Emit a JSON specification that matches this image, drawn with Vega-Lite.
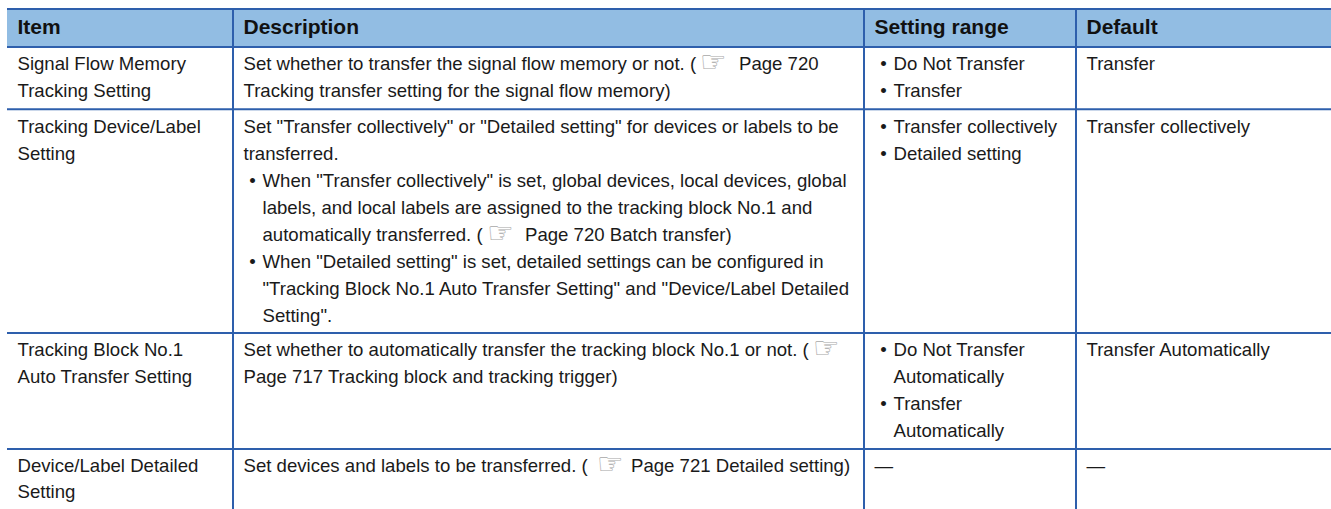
{
"$schema":"https://vega.github.io/schema/vega-lite/v6.json",
"width":1331,"height":509,"padding":0,"autosize":{"type":"none"},
"background":"white","view":{"stroke":null},
"datasets":{
"header":[{"colStart":0,"colEnd":4,"rowStart":0,"rowEnd":1}],
"hrules":[{"edge":0,"colStart":0,"colEnd":4},{"edge":1,"colStart":0,"colEnd":4},{"edge":2,"colStart":0,"colEnd":4},{"edge":3,"colStart":0,"colEnd":4},{"edge":4,"colStart":0,"colEnd":4}],
"vrules":[{"col":1,"rowStart":0,"rowEnd":5},{"col":2,"rowStart":0,"rowEnd":5},{"col":3,"rowStart":0,"rowEnd":5}],
"hands":[{"pos":1.740,"line":1},{"pos":1.403,"line":7},{"pos":1.919,"line":11},{"pos":1.577,"line":15}],
"cells":[
{"col":0,"line":0,"kind":"head","text":"Item"},
{"col":1,"line":0,"kind":"head","text":"Description"},
{"col":2,"line":0,"kind":"head","text":"Setting range"},
{"col":3,"line":0,"kind":"head","text":"Default"},
{"col":0,"line":1,"kind":"body","text":"Signal Flow Memory"},
{"col":0,"line":2,"kind":"body","text":"Tracking Setting"},
{"col":1,"line":1,"kind":"body","text":"Set whether to transfer the signal flow memory or not. ("},
{"col":1.7853,"line":1,"kind":"body","text":"Page 720"},
{"col":1,"line":2,"kind":"body","text":"Tracking transfer setting for the signal flow memory)"},
{"col":2,"line":1,"kind":"bullet","text":"Do Not Transfer"},
{"col":2,"line":2,"kind":"bullet","text":"Transfer"},
{"col":3,"line":1,"kind":"body","text":"Transfer"},
{"col":0,"line":3,"kind":"body","text":"Tracking Device/Label"},
{"col":0,"line":4,"kind":"body","text":"Setting"},
{"col":1,"line":3,"kind":"body","text":"Set \"Transfer collectively\" or \"Detailed setting\" for devices or labels to be"},
{"col":1,"line":4,"kind":"body","text":"transferred."},
{"col":1,"line":5,"kind":"bullet","text":"When \"Transfer collectively\" is set, global devices, local devices, global"},
{"col":1,"line":6,"kind":"wrap","text":"labels, and local labels are assigned to the tracking block No.1 and"},
{"col":1,"line":7,"kind":"wrap","text":"automatically transferred. ("},
{"col":1.4461,"line":7,"kind":"body","text":"Page 720 Batch transfer)"},
{"col":1,"line":8,"kind":"bullet","text":"When \"Detailed setting\" is set, detailed settings can be configured in"},
{"col":1,"line":9,"kind":"wrap","text":"\"Tracking Block No.1 Auto Transfer Setting\" and \"Device/Label Detailed"},
{"col":1,"line":10,"kind":"wrap","text":"Setting\"."},
{"col":2,"line":3,"kind":"bullet","text":"Transfer collectively"},
{"col":2,"line":4,"kind":"bullet","text":"Detailed setting"},
{"col":3,"line":3,"kind":"body","text":"Transfer collectively"},
{"col":0,"line":11,"kind":"body","text":"Tracking Block No.1"},
{"col":0,"line":12,"kind":"body","text":"Auto Transfer Setting"},
{"col":1,"line":11,"kind":"body","text":"Set whether to automatically transfer the tracking block No.1 or not. ("},
{"col":1,"line":12,"kind":"body","text":"Page 717 Tracking block and tracking trigger)"},
{"col":2,"line":11,"kind":"bullet","text":"Do Not Transfer"},
{"col":2,"line":12,"kind":"wrap","text":"Automatically"},
{"col":2,"line":13,"kind":"bullet","text":"Transfer"},
{"col":2,"line":14,"kind":"wrap","text":"Automatically"},
{"col":3,"line":11,"kind":"body","text":"Transfer Automatically"},
{"col":0,"line":15,"kind":"body","text":"Device/Label Detailed"},
{"col":0,"line":16,"kind":"body","text":"Setting"},
{"col":1,"line":15,"kind":"body","text":"Set devices and labels to be transferred. ("},
{"col":1.6141,"line":15,"kind":"body","text":"Page 721 Detailed setting)"},
{"col":2,"line":15,"kind":"body","text":"—"},
{"col":3,"line":15,"kind":"body","text":"—"}
]},
"layer":[
{"data":{"name":"header"},"mark":{"type":"rect","color":"#92BDE3"},
 "encoding":{"x":{"field":"colStart","type":"quantitative","scale":{"domain":[0,1,2,3,4],"range":[7,233,864,1076,1331],"nice":false,"zero":false},"axis":null},
 "x2":{"field":"colEnd"},
 "y":{"field":"rowStart","type":"quantitative","scale":{"domain":[0,1,2,3,4,5],"range":[9,47,109.3,333,449,509],"nice":false,"zero":false},"axis":null},
 "y2":{"field":"rowEnd"}}},
{"data":{"name":"vrules"},"mark":{"type":"rule","color":"#2E5FAC","strokeWidth":2},
 "encoding":{"x":{"field":"col","type":"quantitative","axis":null},
 "y":{"field":"rowStart","type":"quantitative","axis":null,"scale":{"domain":[0,1,2,3,4,5],"range":[9,47,109.3,333,449,509],"nice":false,"zero":false}},"y2":{"field":"rowEnd"}}},
{"data":{"name":"hrules"},"mark":{"type":"rule","color":"#2E5FAC","strokeWidth":2},
 "encoding":{"x":{"field":"colStart","type":"quantitative","axis":null},"x2":{"field":"colEnd"},
 "y":{"field":"edge","type":"quantitative","axis":null,"scale":{"domain":[0,1,2,3,4,5],"range":[9,47,109.3,333,449,509],"nice":false,"zero":false}}}},
{"data":{"name":"cells"},"transform":[{"filter":"datum.kind==='head'"}],
 "mark":{"type":"text","align":"left","baseline":"alphabetic","dx":10.5,"font":"Liberation Sans","fontSize":21,"fontWeight":"bold","color":"#111111"},
 "encoding":{"x":{"field":"col","type":"quantitative","axis":null},
 "y":{"field":"line","type":"quantitative","axis":null,"scale":{"domain":[0,1,2,3,10,11,14,15,16],"range":[34.2,70,97,133,322,356,437,472,498],"nice":false,"zero":false}},
 "text":{"field":"text"}}},
{"data":{"name":"cells"},"transform":[{"filter":"datum.kind==='body'"}],
 "mark":{"type":"text","align":"left","baseline":"alphabetic","dx":10.5,"font":"Liberation Sans","fontSize":18.6,"color":"#1a1a1a"},
 "encoding":{"x":{"field":"col","type":"quantitative","axis":null},
 "y":{"field":"line","type":"quantitative","axis":null,"scale":{"domain":[0,1,2,3,10,11,14,15,16],"range":[34.2,70,97,133,322,356,437,472,498],"nice":false,"zero":false}},
 "text":{"field":"text"}}},
{"data":{"name":"cells"},"transform":[{"filter":"datum.kind==='bullet'||datum.kind==='wrap'"}],
 "mark":{"type":"text","align":"left","baseline":"alphabetic","dx":29.5,"font":"Liberation Sans","fontSize":18.6,"color":"#1a1a1a"},
 "encoding":{"x":{"field":"col","type":"quantitative","axis":null},
 "y":{"field":"line","type":"quantitative","axis":null,"scale":{"domain":[0,1,2,3,10,11,14,15,16],"range":[34.2,70,97,133,322,356,437,472,498],"nice":false,"zero":false}},
 "text":{"field":"text"}}},
{"data":{"name":"cells"},"transform":[{"filter":"datum.kind==='bullet'"}],
 "mark":{"type":"text","align":"center","baseline":"alphabetic","dx":19.5,"font":"Liberation Sans","fontSize":18.6,"color":"#1a1a1a"},
 "encoding":{"x":{"field":"col","type":"quantitative","axis":null},
 "y":{"field":"line","type":"quantitative","axis":null,"scale":{"domain":[0,1,2,3,10,11,14,15,16],"range":[34.2,70,97,133,322,356,437,472,498],"nice":false,"zero":false}},
 "text":{"value":"•"}}},
{"data":{"name":"hands"},
 "mark":{"type":"text","align":"left","baseline":"alphabetic","dy":2,"font":"DejaVu Sans","fontSize":30,"color":"#a8a8a8"},
 "encoding":{"x":{"field":"pos","type":"quantitative","axis":null},
 "y":{"field":"line","type":"quantitative","axis":null,"scale":{"domain":[0,1,2,3,10,11,14,15,16],"range":[34.2,70,97,133,322,356,437,472,498],"nice":false,"zero":false}},
 "text":{"value":"☞"}}}
],
"resolve":{"scale":{"y":"independent"}}
}
